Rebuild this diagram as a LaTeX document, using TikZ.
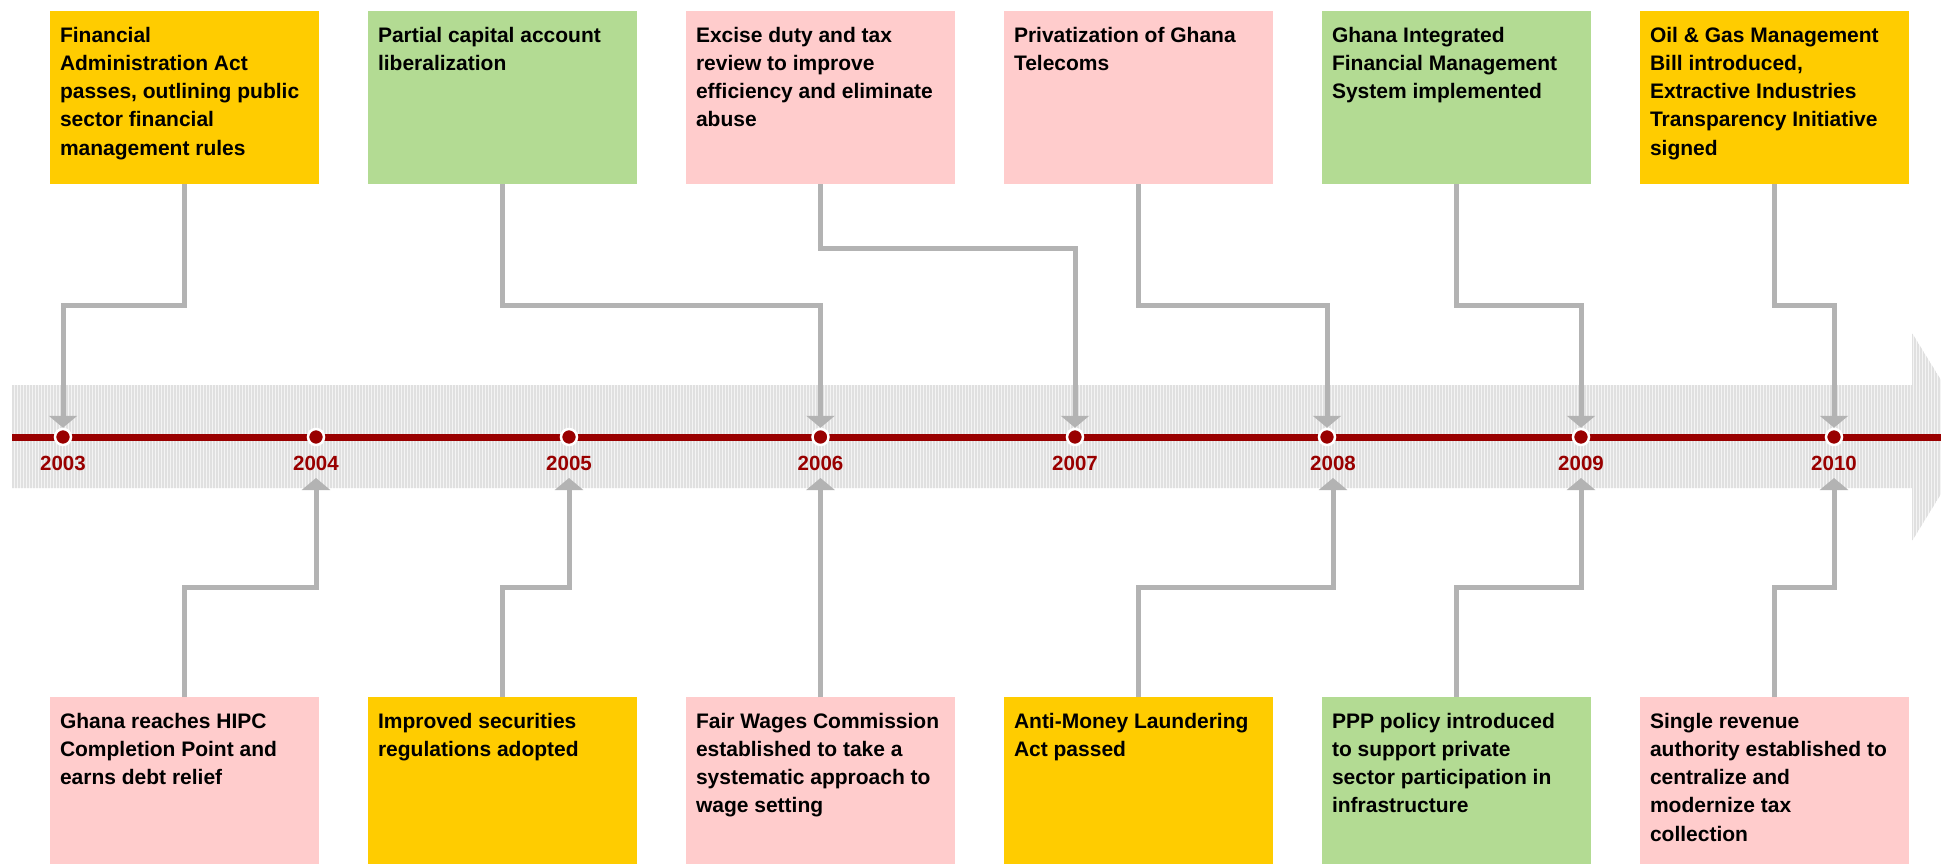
\documentclass[tikz,border=0pt]{standalone}
\usepackage{fontspec}
\setmainfont{Liberation Sans}
\usetikzlibrary{arrows.meta,calc}
\definecolor{cyel}{HTML}{FFCC00}
\definecolor{cgrn}{HTML}{B3DB93}
\definecolor{cpnk}{HTML}{FFCCCC}
\definecolor{cgry}{HTML}{B3B3B3}
\definecolor{cred}{HTML}{990000}
\definecolor{bandbg}{HTML}{F4F4F4}
\definecolor{bandln}{HTML}{E0E0E0}
\begin{document}
\begin{tikzpicture}[x=1pt,y=-1pt,
  card/.style={rectangle, inner sep=0pt, outer sep=0pt, minimum width=269pt, anchor=north west},
  topcard/.style={card, minimum height=173pt},
  botcard/.style={card, minimum height=167pt},
  cardtext/.style={anchor=north west, inner sep=0pt, outer sep=0pt, align=left, font=\fontsize{21}{28.3}\selectfont\bfseries},
  conn/.style={draw=cgry, line width=5pt, -{Triangle[width=28pt,length=12pt]}},
  dot/.style={circle, fill=cred, draw=white, line width=2.5pt, minimum size=16pt, inner sep=0pt},
  year/.style={anchor=base, inner sep=0pt, text=cred, font=\fontsize{20.5}{24}\selectfont\bfseries},
]
\useasboundingbox (0,0) rectangle (1941,864);
% band arrow
\begin{scope}
  \clip (0,0) rectangle (1941,864);
  \path[fill=bandbg] (12,385) -- (1912,385) -- (1912,333) -- (1976,437) -- (1912,541) -- (1912,488) -- (12,488) -- cycle;
  \begin{scope}
    \clip (12,385) -- (1912,385) -- (1912,333) -- (1976,437) -- (1912,541) -- (1912,488) -- (12,488) -- cycle;
    \foreach \x in {13,16,...,1976} \draw[bandln, line width=1.3pt] (\x,330) -- (\x,545);
  \end{scope}
\end{scope}
% red timeline
\draw[cred, line width=7pt] (12,437) -- (1941,437);
% year labels and arrow targets
\foreach \yr/\lx in {2003/63, 2004/316, 2005/569, 2006/820.5, 2007/1075, 2008/1333, 2009/1581, 2010/1834} {
  \node[year] (y\yr) at (\lx,470) {\yr};
  \coordinate (a\yr) at (\lx,478);
}
% cards top
\node[topcard, fill=cyel] (t1) at (50,11) {};
\node[topcard, fill=cgrn] (t2) at (368,11) {};
\node[topcard, fill=cpnk] (t3) at (686,11) {};
\node[topcard, fill=cpnk] (t4) at (1004,11) {};
\node[topcard, fill=cgrn] (t5) at (1322,11) {};
\node[topcard, fill=cyel] (t6) at (1640,11) {};
% cards bottom
\node[botcard, fill=cpnk] (b1) at (50,697) {};
\node[botcard, fill=cyel] (b2) at (368,697) {};
\node[botcard, fill=cpnk] (b3) at (686,697) {};
\node[botcard, fill=cyel] (b4) at (1004,697) {};
\node[botcard, fill=cgrn] (b5) at (1322,697) {};
\node[botcard, fill=cpnk] (b6) at (1640,697) {};
% card texts
\node[cardtext] (t1x) at ($(t1.north west)+(10,11.2)$) {\strut Financial\\Administration Act\\passes, outlining public\\sector financial\\management rules};
\node[cardtext] (t2x) at ($(t2.north west)+(10,11.2)$) {\strut Partial capital account\\liberalization};
\node[cardtext] (t3x) at ($(t3.north west)+(10,11.2)$) {\strut Excise duty and tax\\review to improve\\efficiency and eliminate\\abuse};
\node[cardtext] (t4x) at ($(t4.north west)+(10,11.2)$) {\strut Privatization of Ghana\\Telecoms};
\node[cardtext] (t5x) at ($(t5.north west)+(10,11.2)$) {\strut Ghana Integrated\\Financial Management\\System implemented};
\node[cardtext] (t6x) at ($(t6.north west)+(10,11.2)$) {\strut Oil \& Gas Management\\Bill introduced,\\Extractive Industries\\Transparency Initiative\\signed};
\node[cardtext] (b1x) at ($(b1.north west)+(10,11.2)$) {\strut Ghana reaches HIPC\\Completion Point and\\earns debt relief};
\node[cardtext] (b2x) at ($(b2.north west)+(10,11.2)$) {\strut Improved securities\\regulations adopted};
\node[cardtext] (b3x) at ($(b3.north west)+(10,11.2)$) {\strut Fair Wages Commission\\established to take a\\systematic approach to\\wage setting};
\node[cardtext] (b4x) at ($(b4.north west)+(10,11.2)$) {\strut Anti-Money Laundering\\Act passed};
\node[cardtext] (b5x) at ($(b5.north west)+(10,11.2)$) {\strut PPP policy introduced\\to support private\\sector participation in\\infrastructure};
\node[cardtext] (b6x) at ($(b6.north west)+(10,11.2)$) {\strut Single revenue\\authority established to\\centralize and\\modernize tax\\collection};
% dots
\foreach \yr/\x in {2003/63, 2004/316, 2005/569, 2006/820.5, 2007/1075, 2008/1327, 2009/1581, 2010/1834} {
  \node[dot] (d\yr) at (\x,437) {};
}
% connectors top
\draw[conn] (t1.south) -- ++(0,121) -| (d2003.north);
\draw[conn] (t2.south) -- ++(0,121) -| (d2006.north);
\draw[conn] (t3.south) -- ++(0,64) -| (d2007.north);
\draw[conn] (t4.south) -- ++(0,121) -| (d2008.north);
\draw[conn] (t5.south) -- ++(0,121) -| (d2009.north);
\draw[conn] (t6.south) -- ++(0,121) -| (d2010.north);
% connectors bottom
\draw[conn] (b1.north) -- ++(0,-110) -| (a2004);
\draw[conn] (b2.north) -- ++(0,-110) -| (a2005);
\draw[conn] (b3.north) -- (a2006);
\draw[conn] (b4.north) -- ++(0,-110) -| (a2008);
\draw[conn] (b5.north) -- ++(0,-110) -| (a2009);
\draw[conn] (b6.north) -- ++(0,-110) -| (a2010);
\end{tikzpicture}
\end{document}
